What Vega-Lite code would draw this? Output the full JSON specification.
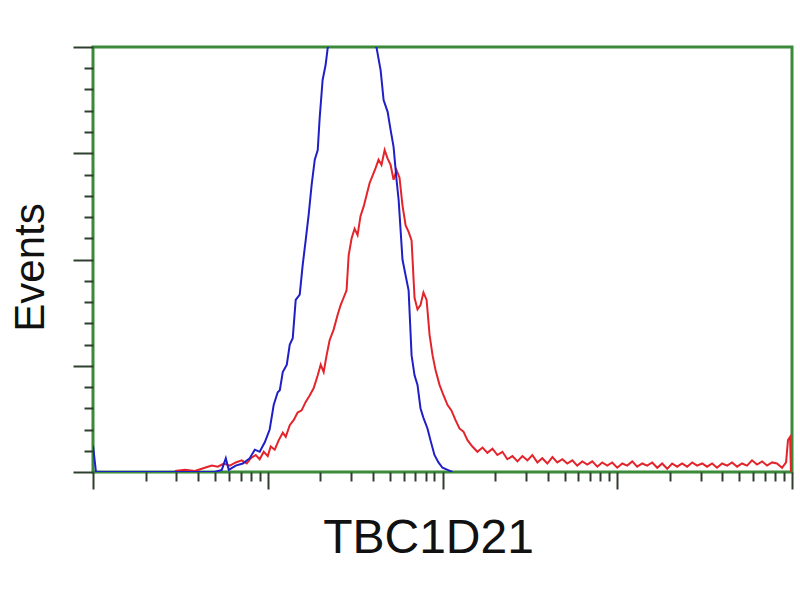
{
  "$schema": "https://vega.github.io/schema/vega-lite/v6.json",
  "autosize": {"type": "none"},
  "width": 699,
  "height": 425,
  "padding": {"left": 93, "top": 47, "right": 8, "bottom": 128},
  "background": "white",
  "config": {
    "view": {"stroke": "#3a8a3a", "strokeWidth": 3},
    "axis": {"domain": false, "grid": false, "labels": false, "tickColor": "#2f3f2f", "tickWidth": 2, "titleFont": "Liberation Sans", "titleFontWeight": "normal", "titleColor": "#111111"}
  },
  "datasets": {
    "red": [
      {"logFL": 0.469, "events": 1}, {"logFL": 0.526, "events": 2}, {"logFL": 0.583, "events": 1}, {"logFL": 0.64, "events": 4},
      {"logFL": 0.68, "events": 6}, {"logFL": 0.714, "events": 5}, {"logFL": 0.749, "events": 8}, {"logFL": 0.783, "events": 6},
      {"logFL": 0.817, "events": 9}, {"logFL": 0.851, "events": 11}, {"logFL": 0.88, "events": 8}, {"logFL": 0.903, "events": 13},
      {"logFL": 0.931, "events": 16}, {"logFL": 0.954, "events": 12}, {"logFL": 0.977, "events": 19}, {"logFL": 1.0, "events": 15},
      {"logFL": 1.017, "events": 24}, {"logFL": 1.04, "events": 21}, {"logFL": 1.063, "events": 30}, {"logFL": 1.086, "events": 37},
      {"logFL": 1.103, "events": 33}, {"logFL": 1.126, "events": 44}, {"logFL": 1.149, "events": 49}, {"logFL": 1.171, "events": 56},
      {"logFL": 1.194, "events": 58}, {"logFL": 1.217, "events": 66}, {"logFL": 1.24, "events": 72}, {"logFL": 1.263, "events": 79},
      {"logFL": 1.286, "events": 91}, {"logFL": 1.303, "events": 101}, {"logFL": 1.32, "events": 94}, {"logFL": 1.337, "events": 110},
      {"logFL": 1.354, "events": 124}, {"logFL": 1.377, "events": 134}, {"logFL": 1.4, "events": 148}, {"logFL": 1.417, "events": 157},
      {"logFL": 1.434, "events": 164}, {"logFL": 1.451, "events": 171}, {"logFL": 1.463, "events": 204}, {"logFL": 1.48, "events": 220},
      {"logFL": 1.497, "events": 229}, {"logFL": 1.514, "events": 223}, {"logFL": 1.531, "events": 241}, {"logFL": 1.549, "events": 250},
      {"logFL": 1.566, "events": 261}, {"logFL": 1.583, "events": 272}, {"logFL": 1.6, "events": 279}, {"logFL": 1.617, "events": 286},
      {"logFL": 1.634, "events": 294}, {"logFL": 1.651, "events": 289}, {"logFL": 1.669, "events": 303}, {"logFL": 1.686, "events": 295},
      {"logFL": 1.703, "events": 289}, {"logFL": 1.72, "events": 275}, {"logFL": 1.737, "events": 284}, {"logFL": 1.754, "events": 277},
      {"logFL": 1.771, "events": 251}, {"logFL": 1.789, "events": 232}, {"logFL": 1.806, "events": 226}, {"logFL": 1.823, "events": 218},
      {"logFL": 1.84, "events": 164}, {"logFL": 1.857, "events": 153}, {"logFL": 1.874, "events": 157}, {"logFL": 1.891, "events": 169},
      {"logFL": 1.909, "events": 162}, {"logFL": 1.926, "events": 129}, {"logFL": 1.943, "events": 110}, {"logFL": 1.96, "events": 96},
      {"logFL": 1.983, "events": 82}, {"logFL": 2.006, "events": 72}, {"logFL": 2.029, "events": 63}, {"logFL": 2.051, "events": 58},
      {"logFL": 2.074, "events": 49}, {"logFL": 2.097, "events": 41}, {"logFL": 2.12, "events": 38}, {"logFL": 2.143, "events": 30},
      {"logFL": 2.171, "events": 24}, {"logFL": 2.2, "events": 19}, {"logFL": 2.229, "events": 23}, {"logFL": 2.257, "events": 18},
      {"logFL": 2.286, "events": 22}, {"logFL": 2.314, "events": 16}, {"logFL": 2.343, "events": 19}, {"logFL": 2.371, "events": 12},
      {"logFL": 2.4, "events": 15}, {"logFL": 2.429, "events": 10}, {"logFL": 2.457, "events": 15}, {"logFL": 2.486, "events": 11},
      {"logFL": 2.514, "events": 16}, {"logFL": 2.543, "events": 9}, {"logFL": 2.571, "events": 13}, {"logFL": 2.6, "events": 8},
      {"logFL": 2.629, "events": 14}, {"logFL": 2.657, "events": 9}, {"logFL": 2.686, "events": 12}, {"logFL": 2.714, "events": 8},
      {"logFL": 2.743, "events": 11}, {"logFL": 2.771, "events": 6}, {"logFL": 2.8, "events": 10}, {"logFL": 2.829, "events": 7},
      {"logFL": 2.857, "events": 10}, {"logFL": 2.886, "events": 5}, {"logFL": 2.914, "events": 9}, {"logFL": 2.943, "events": 6},
      {"logFL": 2.971, "events": 9}, {"logFL": 3.0, "events": 4}, {"logFL": 3.029, "events": 8}, {"logFL": 3.057, "events": 6},
      {"logFL": 3.086, "events": 10}, {"logFL": 3.114, "events": 5}, {"logFL": 3.143, "events": 8}, {"logFL": 3.171, "events": 6},
      {"logFL": 3.2, "events": 9}, {"logFL": 3.229, "events": 4}, {"logFL": 3.257, "events": 8}, {"logFL": 3.286, "events": 3},
      {"logFL": 3.314, "events": 8}, {"logFL": 3.343, "events": 5}, {"logFL": 3.371, "events": 8}, {"logFL": 3.4, "events": 5},
      {"logFL": 3.429, "events": 9}, {"logFL": 3.457, "events": 6}, {"logFL": 3.486, "events": 8}, {"logFL": 3.514, "events": 5},
      {"logFL": 3.543, "events": 8}, {"logFL": 3.571, "events": 4}, {"logFL": 3.6, "events": 8}, {"logFL": 3.629, "events": 6},
      {"logFL": 3.657, "events": 9}, {"logFL": 3.686, "events": 5}, {"logFL": 3.714, "events": 8}, {"logFL": 3.743, "events": 6},
      {"logFL": 3.771, "events": 11}, {"logFL": 3.8, "events": 7}, {"logFL": 3.829, "events": 10}, {"logFL": 3.857, "events": 6},
      {"logFL": 3.886, "events": 9}, {"logFL": 3.914, "events": 8}, {"logFL": 3.943, "events": 4}, {"logFL": 3.966, "events": 9},
      {"logFL": 3.977, "events": 30}, {"logFL": 3.989, "events": 33}, {"logFL": 3.994, "events": 0}
    ],
    "blue": [
      {"logFL": 0.0, "events": 25}, {"logFL": 0.017, "events": 0}, {"logFL": 0.697, "events": 0}, {"logFL": 0.737, "events": 2},
      {"logFL": 0.76, "events": 13}, {"logFL": 0.777, "events": 2}, {"logFL": 0.817, "events": 6}, {"logFL": 0.857, "events": 8},
      {"logFL": 0.897, "events": 13}, {"logFL": 0.926, "events": 21}, {"logFL": 0.954, "events": 19}, {"logFL": 0.983, "events": 28},
      {"logFL": 1.011, "events": 40}, {"logFL": 1.034, "events": 63}, {"logFL": 1.057, "events": 75}, {"logFL": 1.069, "events": 77},
      {"logFL": 1.086, "events": 94}, {"logFL": 1.109, "events": 101}, {"logFL": 1.126, "events": 120}, {"logFL": 1.143, "events": 126},
      {"logFL": 1.16, "events": 162}, {"logFL": 1.183, "events": 167}, {"logFL": 1.2, "events": 195}, {"logFL": 1.217, "events": 218},
      {"logFL": 1.234, "events": 242}, {"logFL": 1.251, "events": 270}, {"logFL": 1.269, "events": 294}, {"logFL": 1.286, "events": 303},
      {"logFL": 1.297, "events": 333}, {"logFL": 1.314, "events": 369}, {"logFL": 1.331, "events": 383}, {"logFL": 1.343, "events": 399},
      {"logFL": 1.411, "events": 425}, {"logFL": 1.48, "events": 444}, {"logFL": 1.554, "events": 425}, {"logFL": 1.623, "events": 399},
      {"logFL": 1.646, "events": 378}, {"logFL": 1.663, "events": 350}, {"logFL": 1.686, "events": 339}, {"logFL": 1.703, "events": 322},
      {"logFL": 1.72, "events": 306}, {"logFL": 1.737, "events": 275}, {"logFL": 1.749, "events": 256}, {"logFL": 1.76, "events": 228},
      {"logFL": 1.771, "events": 200}, {"logFL": 1.789, "events": 185}, {"logFL": 1.806, "events": 171}, {"logFL": 1.823, "events": 110},
      {"logFL": 1.84, "events": 91}, {"logFL": 1.857, "events": 82}, {"logFL": 1.874, "events": 60}, {"logFL": 1.891, "events": 51},
      {"logFL": 1.914, "events": 41}, {"logFL": 1.931, "events": 30}, {"logFL": 1.954, "events": 16}, {"logFL": 1.977, "events": 9},
      {"logFL": 2.0, "events": 4}, {"logFL": 2.029, "events": 2}, {"logFL": 2.057, "events": 0}
    ]
  },
  "encoding": {
    "x": {
      "field": "logFL", "type": "quantitative",
      "scale": {"domain": [0, 4], "nice": false, "zero": false},
      "axis": {
        "title": "TBC1D21", "titleFontSize": 48, "titleX": 335, "titleY": 80, "titleBaseline": "alphabetic", "titleAnchor": "middle", "titleAlign": "center",
        "values": [0, 0.301, 0.477, 0.602, 0.699, 0.778, 0.845, 0.903, 0.954, 1, 1.301, 1.477, 1.602, 1.699, 1.778, 1.845, 1.903, 1.954, 2, 2.301, 2.477, 2.602, 2.699, 2.778, 2.845, 2.903, 2.954, 3, 3.301, 3.477, 3.602, 3.699, 3.778, 3.845, 3.903, 3.954, 4],
        "tickSize": {"condition": {"test": "datum.value == round(datum.value)", "value": 17}, "value": 9}
      }
    },
    "y": {
      "field": "events", "type": "quantitative",
      "scale": {"domain": [0, 400], "nice": false},
      "axis": {
        "title": "Events", "titleFontSize": 42, "titleAngle": -90, "titleX": -50, "titleY": 220, "titleBaseline": "alphabetic", "titleAlign": "center",
        "values": [0, 20, 40, 60, 80, 100, 120, 140, 160, 180, 200, 220, 240, 260, 280, 300, 320, 340, 360, 380, 400],
        "tickSize": {"condition": {"test": "datum.value % 100 == 0", "value": 20}, "value": 9}
      }
    }
  },
  "layer": [
    {"data": {"name": "red"}, "mark": {"type": "line", "color": "#e3242b", "strokeWidth": 2, "clip": true}},
    {"data": {"name": "blue"}, "mark": {"type": "line", "color": "#1f1fc8", "strokeWidth": 2, "clip": true}}
  ]
}
